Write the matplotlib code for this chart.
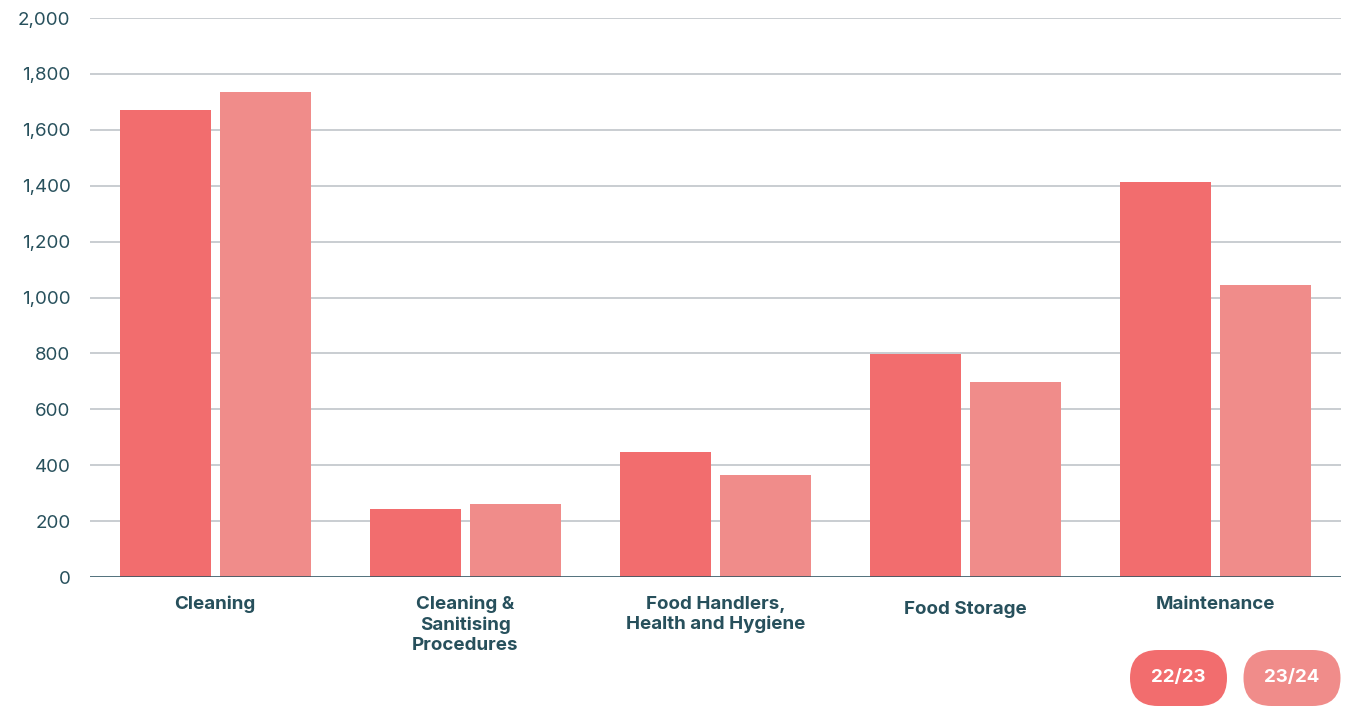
import matplotlib
matplotlib.use("Agg")
import numpy as np
import matplotlib.pyplot as plt
from matplotlib.patches import FancyBboxPatch
from matplotlib.transforms import ScaledTranslation

plt.rcParams['font.family'] = ['Inter', 'DejaVu Sans']

categories = ['Cleaning', 'Cleaning &\nSanitising\nProcedures', 'Food Handlers,\nHealth and Hygiene',
              'Food Storage', 'Maintenance']
series_names = ['22/23', '23/24']
values_2223 = [1670, 243, 447, 798, 1413]
values_2324 = [1735, 261, 365, 698, 1045]
colors = ['#F26D6E', '#F08C8A']
y_ticks = [0, 200, 400, 600, 800, 1000, 1200, 1400, 1600, 1800, 2000]

text_col = '#27505C'

fig = plt.figure(figsize=(13.57, 7.06), dpi=100)
ax = fig.add_axes([90 / 1357, 1 - 577 / 706, 1251 / 1357, 559 / 706])

x = np.arange(len(categories))
w = 0.364
ax.bar(x - 0.2, values_2223, width=w, color=colors[0], zorder=2)
ax.bar(x + 0.2, values_2324, width=w, color=colors[1], zorder=2)

ax.set_xlim(-0.5, len(categories) - 0.5)
ax.set_ylim(0, 2000)
ax.set_yticks(y_ticks)
ax.set_yticklabels([f'{v:,}' for v in y_ticks], fontsize=13.5, color=text_col)
ax.set_xticks(x)
ax.set_xticklabels(categories, fontsize=13.5, fontweight='bold', color=text_col,
                   linespacing=1.24, va='top')
ax.tick_params(axis='y', length=0, pad=14)
ax.tick_params(axis='x', length=0, pad=13.5)

# "Food Storage" sits a little lower in the original
lbl = ax.get_xticklabels()[3]
lbl.set_transform(lbl.get_transform() + ScaledTranslation(0, -5 / 100, fig.dpi_scale_trans))

for v in y_ticks[1:]:
    ax.axhline(v, color='#C9CDD1', linewidth=1.4, zorder=1)
ax.axhline(0, color='#2E5361', linewidth=2, zorder=3, alpha=0.9)
for s in ax.spines.values():
    s.set_visible(False)

# legend pills in pixel units
lax = fig.add_axes([1120 / 1357, 0, 237 / 1357, 60 / 706])
lax.set_xlim(0, 237)
lax.set_ylim(0, 60)
lax.axis('off')
for i, (name, col) in enumerate(zip(series_names, colors)):
    x0 = 10 + i * 113.5
    pill = FancyBboxPatch((x0, 0), 97, 56, boxstyle='round,pad=0,rounding_size=28',
                          facecolor=col, edgecolor='none', clip_on=False)
    lax.add_patch(pill)
    lax.text(x0 + 48.5, 28, name, color='white', fontsize=13.5, fontweight='bold',
             ha='center', va='center')

fig.savefig('out.png', dpi=100)
